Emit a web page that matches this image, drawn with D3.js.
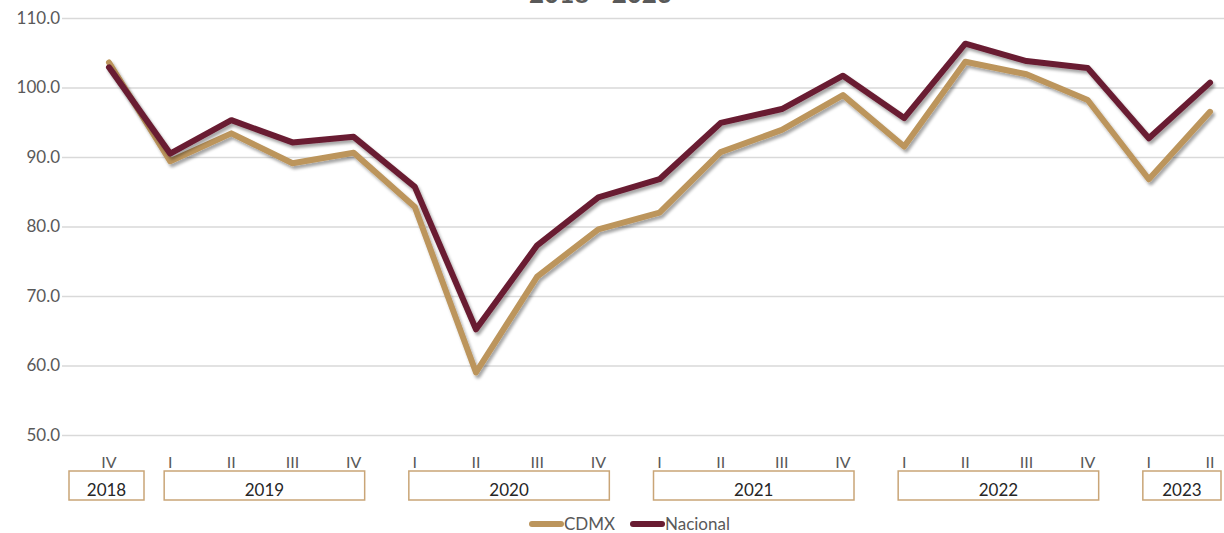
<!DOCTYPE html>
<html>
<head>
<meta charset="utf-8">
<script src="https://cdn.jsdelivr.net/npm/d3@7"></script>
<style>
  body { margin: 0; background: #fff; }
  svg { display: block; }
  svg text { font-family: Lato, "Noto Sans", sans-serif; }
</style>
</head>
<body>
<svg id="chart" width="1224" height="533"></svg>
<script>
var quarters = ["IV", "I", "II", "III", "IV", "I", "II", "III", "IV", "I", "II", "III", "IV", "I", "II", "III", "IV", "I", "II"]
var years = ["2018", "2019", "2020", "2021", "2022", "2023"]
var yearStart = [0, 1, 5, 9, 13, 17]
var yearEnd = [0, 4, 8, 12, 16, 18]
var cdmx = [103.6, 89.4, 93.4, 89.1, 90.6, 82.8, 59.0, 72.8, 79.6, 82.0, 90.7, 93.9, 98.9, 91.5, 103.7, 101.9, 98.2, 86.8, 96.5]
var nacional = [102.9, 90.5, 95.3, 92.1, 92.9, 85.7, 65.2, 77.3, 84.2, 86.8, 94.9, 96.9, 101.7, 95.6, 106.3, 103.8, 102.8, 92.7, 100.7]
var yTicks = [50, 60, 70, 80, 90, 100, 110]

var gold = "#BC955C", wine = "#691C32"
var font = "Lato, 'Noto Sans', sans-serif"

var svg = d3.select("#chart")

var x = d3.scalePoint().domain(d3.range(quarters.length)).range([109, 1210])
var y = d3.scaleLinear().domain([50, 110]).range([435, 18])

// shadow under the lines
var defs = svg.append("defs")
var f = defs.append("filter").attr("id", "shadow")
  .attr("x", "-5%").attr("y", "-5%").attr("width", "110%").attr("height", "120%")
f.append("feDropShadow").attr("dx", 2).attr("dy", 3).attr("stdDeviation", 1.5)
  .attr("flood-color", "#000").attr("flood-opacity", 0.35)

// title, mostly cut off at the top
svg.append("text").attr("x", 672).attr("y", 3).attr("text-anchor", "end")
  .attr("font-size", 26).attr("font-weight", "bold").attr("fill", "#595959")
  .text("2018 - 2023")

// grid + y labels
var yAxis = d3.axisLeft(y).tickValues(yTicks).tickSize(-1162).tickFormat(d3.format(".1f"))
var ga = svg.append("g").attr("transform", "translate(62,0)").call(yAxis)
ga.select(".domain").remove()
ga.selectAll(".tick line").attr("stroke", "#d9d9d9").attr("stroke-width", 1.3)
ga.selectAll(".tick text").attr("x", -2).attr("fill", "#595959")
  .attr("font-size", 17).attr("font-family", font)

// quarter labels
svg.append("g").selectAll("text").data(quarters).join("text")
  .attr("x", function(d, i) { return x(i) })
  .attr("y", 468)
  .attr("text-anchor", "middle")
  .attr("font-family", font)
  .attr("font-size", 16).attr("fill", "#595959")
  .text(function(d) { return d })

// year boxes
var yb = svg.append("g").selectAll("g").data(years).join("g")
function boxL(i) { return yearStart[i] == yearEnd[i] ? x(yearStart[i]) - 40 : x(yearStart[i]) - 6 }
function boxR(i) { return yearStart[i] == yearEnd[i] ? x(yearEnd[i]) + 35 : x(yearEnd[i]) + 11 }
yb.append("rect")
  .attr("x", function(d, i) { return boxL(i) })
  .attr("y", 471)
  .attr("width", function(d, i) { return boxR(i) - boxL(i) })
  .attr("height", 29)
  .attr("fill", "none").attr("stroke", "#C9A577").attr("stroke-width", 1.5)
yb.append("text")
  .attr("x", function(d, i) { return (boxL(i) + boxR(i)) / 2 })
  .attr("y", 496)
  .attr("text-anchor", "middle")
  .attr("font-family", font)
  .attr("font-size", 17).attr("fill", "#262626")
  .text(function(d) { return d })

// lines
var line = d3.line().x(function(d, i) { return x(i) }).y(function(d) { return y(d) })
var series = [{ name: "CDMX", values: cdmx, color: gold }, { name: "Nacional", values: nacional, color: wine }]
svg.append("g").selectAll("path").data(series).join("path")
  .attr("d", function(d) { return line(d.values) })
  .attr("fill", "none")
  .attr("stroke", function(d) { return d.color })
  .attr("stroke-width", 6)
  .attr("stroke-linejoin", "round")
  .attr("stroke-linecap", "round")
  .attr("filter", "url(#shadow)")

// legend
var lx = [532, 633]
var lg = svg.append("g").selectAll("g").data(series).join("g")
  .attr("transform", function(d, i) { return "translate(" + lx[i] + ",524)" })
lg.append("line").attr("x1", 0).attr("x2", 29).attr("y1", 0).attr("y2", 0)
  .attr("stroke", function(d) { return d.color }).attr("stroke-width", 6).attr("stroke-linecap", "round")
lg.append("text").attr("x", 32).attr("y", 6)
  .attr("font-family", font)
  .attr("font-size", 17).attr("fill", "#595959")
  .text(function(d) { return d.name })
</script>
</body>
</html>
